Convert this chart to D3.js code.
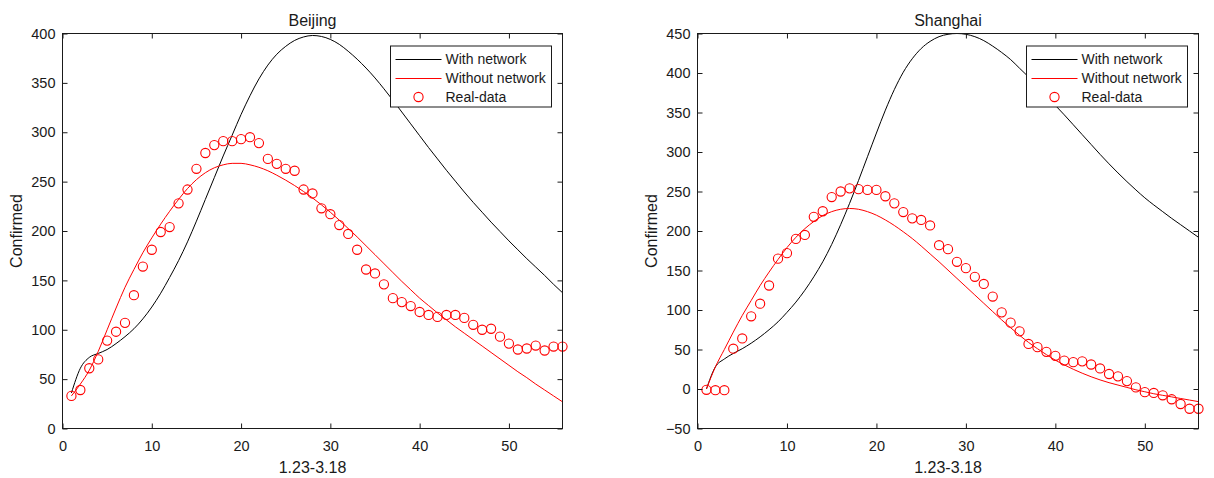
<!DOCTYPE html>
<html>
<head>
<meta charset="utf-8">
<script src="https://cdn.jsdelivr.net/npm/d3@7"></script>
<style>
  html, body { margin: 0; padding: 0; background: #fff; }
  svg { display: block; font-family: "Liberation Sans", Arial, Helvetica, sans-serif; }
</style>
</head>
<body>
<svg id="chart" width="1214" height="478"></svg>
<script>
// ---- data ----
const days = [1,2,3,4,5,6,7,8,9,10,11,12,13,14,15,16,17,18,19,20,21,22,23,24,25,26,27,28,29,30,31,32,33,34,35,36,37,38,39,40,41,42,43,44,45,46,47,48,49,50,51,52,53,54,55,56];

const bjReal = [33,39,61,70,89,98,107,135,164,181,199,204,228,242,263,279,287,291,291,293,295,289,273,268,263,261,242,238,223,217,206,197,181,161,157,146,132,128,124,118,115,113,115,115,112,105,100,101,93,86,80,81,84,79,83,83];
const bjWith = [36,61,72,76,80,86,93,101,111,123,137,153,170,189,210,232,254,276,297,318,337,354,368,379,387,393,396.5,398,397,394,389,382,374,365,355,344,332.5,320.5,308.5,296.5,284.5,273,261.5,250.5,239.5,229,219,209,199.5,190,181,172,163.5,155,146,137.5];
const bjWithout = [33,45,59,78,100,122,143,161,178,193,207,220,232,243,252,259,264,267,268.5,268.5,267,264.5,261,256.5,251.5,246,240,233.5,226.5,219,211,202.5,194,185,176,167,158,149,140.5,132,124.5,117,110,103,96.5,90,83.5,77,70.5,64,57.5,51.5,45,39,33,27];

const shReal = [-1,-1.5,-1.5,51,64,92,108,131,165,172,190,195,218,225,243,250,254,253,252,252,244,235,224,216,214,207,182,177,161,153,142,133,117,97,84,73,57,53,47,42,36,34,35,31,26,19,16,10,2,-4,-5,-8,-13,-19,-25,-25];
const shWith = [0,28,38,45,51,58,66,75,85,97,110,125,142,161,183,208,235,264,294,324,353,379,401,418,431,440,446,449,450,449,446,441,434,426,417,406,395,383,371,359,347,334.5,322,309.5,297,285,273.5,262.5,252,242,233,224.5,216,208,200,192];
const shWithout = [0,28,50,72,93,112,131,148,164,179,192,203,212,219.5,224.5,227.5,228.5,227.5,224.5,220,214,207,199,190.5,181,171,161,150.5,140,129.5,119,108.5,98,87.5,77.5,68,59,51,43.5,36.5,30.5,25,20,15.5,11.5,8,5,2,-1,-3.5,-6,-8,-10,-12,-14,-16];

const xTicks = [0,10,20,30,40,50];
const bjYTicks = [0,50,100,150,200,250,300,350,400];
const shYTicks = [-50,0,50,100,150,200,250,300,350,400,450];
const legendLabels = ["With network","Without network","Real-data"];
const titles = ["Beijing","Shanghai"];
const xLabel = "1.23-3.18";
const yLabel = "Confirmed";

// ---- drawing ----
const svg = d3.select("#chart");
const INK = "#1a1a1a";

function panel(cfg) {
  const x = d3.scaleLinear().domain([0, 56]).range([cfg.x0, cfg.x1]);
  const y = d3.scaleLinear().domain(cfg.yDomain).range([cfg.y1, cfg.y0]);
  const g = svg.append("g");

  const line = vals => d3.line()
      .x((d, i) => x(days[i]))
      .y(d => y(d))
      .curve(d3.curveMonotoneX)(vals);

  g.append("path").attr("d", line(cfg.with))
    .attr("fill", "none").attr("stroke", "#000").attr("stroke-width", 1);
  g.append("path").attr("d", line(cfg.without))
    .attr("fill", "none").attr("stroke", "#ff0000").attr("stroke-width", 1);
  g.selectAll("circle.pt").data(cfg.real).enter().append("circle")
    .attr("class", "pt")
    .attr("cx", (d, i) => x(days[i])).attr("cy", d => y(d))
    .attr("r", 4.6).attr("fill", "none").attr("stroke", "#ff0000").attr("stroke-width", 1.1);

  const styleAxis = sel => {
    sel.select(".domain").remove();
    sel.selectAll(".tick line").attr("stroke", INK);
    sel.selectAll(".tick text").attr("fill", INK).style("font-size", "14.5px").style("font-family", '"Liberation Sans", Arial, sans-serif');
  };
  g.append("g").attr("transform", `translate(0,${cfg.y1})`)
    .call(d3.axisBottom(x).tickValues(xTicks).tickSizeInner(-5).tickSizeOuter(0).tickPadding(12).tickFormat(d3.format("d")))
    .call(styleAxis);
  g.append("g").attr("transform", `translate(0,${cfg.y0})`)
    .call(d3.axisTop(x).tickValues(xTicks).tickSizeInner(-5).tickSizeOuter(0).tickFormat(""))
    .call(styleAxis);
  g.append("g").attr("transform", `translate(${cfg.x0},0)`)
    .call(d3.axisLeft(y).tickValues(cfg.yTicks).tickSizeInner(-5).tickSizeOuter(0).tickPadding(7).tickFormat(d3.format("d")))
    .call(styleAxis);
  g.append("g").attr("transform", `translate(${cfg.x1},0)`)
    .call(d3.axisRight(y).tickValues(cfg.yTicks).tickSizeInner(-5).tickSizeOuter(0).tickFormat(""))
    .call(styleAxis);

  g.append("rect")
    .attr("x", cfg.x0).attr("y", cfg.y0)
    .attr("width", cfg.x1 - cfg.x0).attr("height", cfg.y1 - cfg.y0)
    .attr("fill", "none").attr("stroke", INK).attr("stroke-width", 1);

  const cx = (cfg.x0 + cfg.x1) / 2;
  g.append("text").attr("x", cx).attr("y", 26)
    .attr("text-anchor", "middle").attr("fill", INK).style("font-size", "16px").text(cfg.title);
  g.append("text").attr("x", cx).attr("y", 473)
    .attr("text-anchor", "middle").attr("fill", INK).style("font-size", "16px").text(xLabel);
  g.append("text")
    .attr("transform", `translate(${cfg.x0 - 41},${(cfg.y0 + cfg.y1) / 2}) rotate(-90)`)
    .attr("text-anchor", "middle").attr("fill", INK).style("font-size", "16px").text(yLabel);

  const lx = cfg.x1 - 172, ly = cfg.y0 + 12.5, lw = 161, lh = 61;
  const lg = g.append("g");
  lg.append("rect").attr("x", lx).attr("y", ly).attr("width", lw).attr("height", lh)
    .attr("fill", "#fff").attr("stroke", INK).attr("stroke-width", 1);
  const rowY = [ly + 13.5, ly + 32.5, ly + 51];
  lg.append("line").attr("x1", lx + 5).attr("x2", lx + 51).attr("y1", rowY[0]).attr("y2", rowY[0])
    .attr("stroke", "#000").attr("stroke-width", 1);
  lg.append("line").attr("x1", lx + 5).attr("x2", lx + 51).attr("y1", rowY[1]).attr("y2", rowY[1])
    .attr("stroke", "#ff0000").attr("stroke-width", 1);
  lg.append("circle").attr("cx", lx + 28).attr("cy", rowY[2]).attr("r", 4.6)
    .attr("fill", "none").attr("stroke", "#ff0000").attr("stroke-width", 1.1);
  lg.selectAll("text.lt").data(legendLabels).enter().append("text")
    .attr("class", "lt")
    .attr("x", lx + 55).attr("y", (d, i) => rowY[i]).attr("dy", "0.35em")
    .attr("fill", INK).style("font-size", "14px").text(d => d);
}

panel({ x0: 62.5, x1: 562.5, y0: 33.5, y1: 428.5, yDomain: [0, 400], yTicks: bjYTicks,
        with: bjWith, without: bjWithout, real: bjReal, title: titles[0] });
panel({ x0: 697.5, x1: 1198.5, y0: 33.5, y1: 428.5, yDomain: [-50, 450], yTicks: shYTicks,
        with: shWith, without: shWithout, real: shReal, title: titles[1] });
</script>
</body>
</html>
